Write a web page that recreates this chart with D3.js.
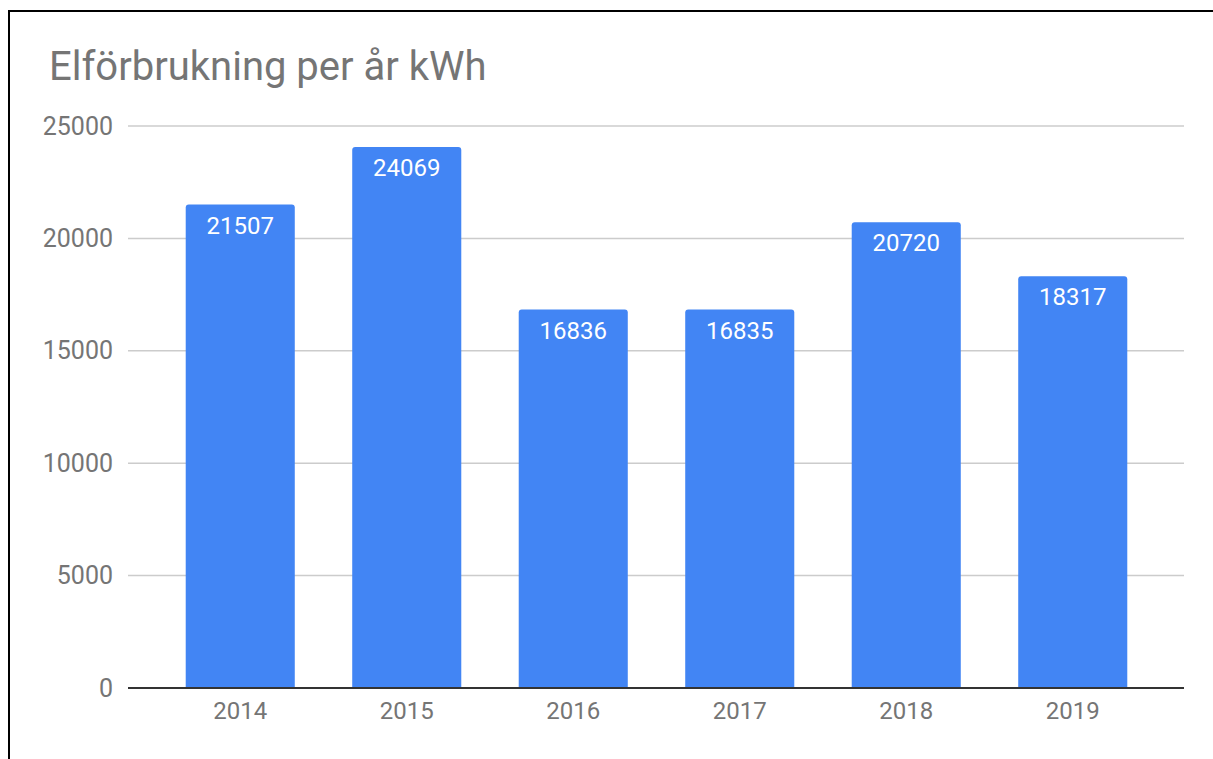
<!DOCTYPE html>
<html>
<head>
<meta charset="utf-8">
<script src="https://cdn.jsdelivr.net/npm/d3@7"></script>
<style>
  html, body { margin: 0; padding: 0; background: #fff; }
  svg { display: block; font-family: Roboto, "Noto Sans", sans-serif; }
</style>
</head>
<body>
<div id="chart"></div>
<script>
// chart values
const years = ['2014', '2015', '2016', '2017', '2018', '2019'];
const usage = [21507, 24069, 16836, 16835, 20720, 18317];
const yTicks = [0, 5000, 10000, 15000, 20000, 25000];
const title = 'Elförbrukning per år kWh';

const width = 1213, height = 759;
const margin = { top: 126, right: 29, bottom: 71, left: 128 };

const svg = d3.select('#chart')
    .append('svg')
    .attr('width', width)
    .attr('height', height);

// frame lines (top + left only, as in the cropped screenshot)
svg.append('path')
    .attr('d', `M9,${height} L9,11 L${width},11`)
    .attr('fill', 'none')
    .attr('stroke', '#000')
    .attr('stroke-width', 2);

svg.append('text')
    .attr('x', 49)
    .attr('y', 80)
    .attr('fill', '#757575')
    .style('font-size', '40px')
    .text(title);

const plotW = width - margin.left - margin.right;
const plotH = height - margin.top - margin.bottom;

const g = svg.append('g')
    .attr('transform', `translate(${margin.left},${margin.top})`);

const y = d3.scaleLinear()
    .domain([0, 25000])
    .range([plotH, 0]);

const x = d3.scaleBand()
    .domain(years)
    .range([29, 1028])
    .paddingInner(0.345)
    .paddingOuter(0.1725);

// gridlines
g.append('g')
    .selectAll('line')
    .data(yTicks.filter(d => d > 0))
    .join('line')
    .attr('x1', 0)
    .attr('x2', plotW)
    .attr('y1', d => y(d))
    .attr('y2', d => y(d))
    .attr('stroke', '#cccccc')
    .attr('stroke-width', 1.5);

// y axis labels
const yAxis = d3.axisLeft(y)
    .tickValues(yTicks)
    .tickSize(0)
    .tickPadding(15)
    .tickFormat(d3.format('d'));
g.append('g')
    .call(yAxis)
    .call(s => s.select('.domain').remove())
    .selectAll('text')
    .attr('fill', '#757575')
    .style('font-size', '25px')
    .style('font-family', 'Roboto, sans-serif');

// bars with rounded top corners
const r = 3;
function barPath(d, i) {
    const x0 = x(years[i]), w = x.bandwidth();
    const top = y(d), bot = y(0);
    return `M${x0},${bot} L${x0},${top + r} Q${x0},${top} ${x0 + r},${top}` +
        ` L${x0 + w - r},${top} Q${x0 + w},${top} ${x0 + w},${top + r} L${x0 + w},${bot} Z`;
}
g.append('g')
    .selectAll('path')
    .data(usage)
    .join('path')
    .attr('d', barPath)
    .attr('fill', '#4285f4');

// value labels
g.append('g')
    .selectAll('text')
    .data(usage)
    .join('text')
    .attr('x', (d, i) => x(years[i]) + x.bandwidth() / 2)
    .attr('y', d => y(d) + 29)
    .attr('text-anchor', 'middle')
    .attr('fill', '#ffffff')
    .style('font-size', '24px')
    .text(d => d);

// baseline
g.append('line')
    .attr('x1', 0)
    .attr('x2', plotW)
    .attr('y1', y(0))
    .attr('y2', y(0))
    .attr('stroke', '#333333')
    .attr('stroke-width', 2);

// x axis labels
const xAxis = d3.axisBottom(x)
    .tickSize(0)
    .tickPadding(14);
g.append('g')
    .attr('transform', `translate(0,${plotH})`)
    .call(xAxis)
    .call(s => s.select('.domain').remove())
    .selectAll('text')
    .attr('fill', '#757575')
    .style('font-size', '24px')
    .style('font-family', 'Roboto, sans-serif');
</script>
</body>
</html>
